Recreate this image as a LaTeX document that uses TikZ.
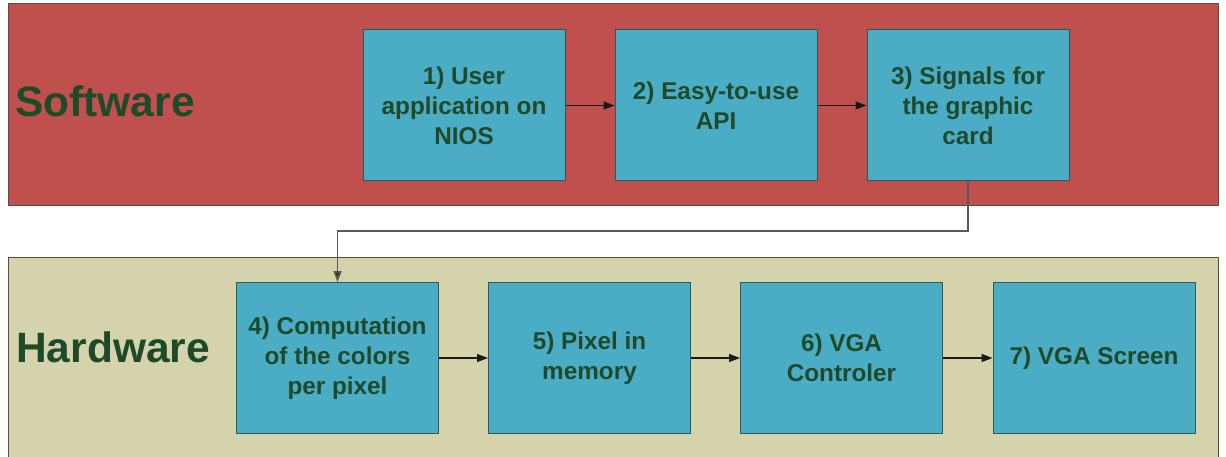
\documentclass[tikz,border=0pt]{standalone}
\usepackage{fontspec}
\setmainfont{Liberation Sans}
\usetikzlibrary{arrows.meta}
\definecolor{swred}{HTML}{C0504D}
\definecolor{hwtan}{HTML}{D5D3AB}
\definecolor{boxblue}{HTML}{4BACC6}
\definecolor{boxline}{HTML}{2E5A55}
\definecolor{bandline}{HTML}{5A4A3E}
\definecolor{txtgreen}{HTML}{1F4A2A}
\tikzset{
  band/.style={draw=bandline, line width=1pt},
  stage/.style={draw=boxline, fill=boxblue, line width=1pt, minimum width=202pt,
    minimum height=151pt, align=center, text=txtgreen,
    font=\fontsize{24.3}{30}\selectfont\bfseries, inner sep=0pt},
  bandlabel/.style={anchor=base west, text=txtgreen, inner sep=0pt,
    font=\fontsize{42.5}{48}\selectfont\bfseries},
  flow/.style={draw=black!90, line width=1.3pt, -{Triangle[length=11pt,width=8pt]}},
  link/.style={draw=black!65, line width=1.8pt, -{Triangle[length=11pt,width=8pt,fill=black!85]}}
}
\begin{document}
\begin{tikzpicture}[x=1pt,y=1pt]
\useasboundingbox (0,0) rectangle (1226,-457);
\fill[white] (0,0) rectangle (1226,-457);
% layers
\filldraw[band, fill=swred] (8,-4) rectangle (1218,-206);
\filldraw[band, fill=hwtan] (8,-257) rectangle (1218,-460);
\node[bandlabel] (sw) at (15,-117) {Software};
\node[bandlabel] (hw) at (16,-362) {Hardware};
% software stages
\node[stage] (s1) at (464,-105.5) {1) User\\application on\\NIOS};
\node[stage] (s2) at (716,-105.5) {2) Easy-to-use\\API};
\node[stage] (s3) at (968,-105.5) {3) Signals for\\the graphic\\card};
% hardware stages
\node[stage] (h4) at (337.5,-358) {4) Computation\\of the colors\\per pixel};
\node[stage] (h5) at (589.5,-358) {5) Pixel in\\memory};
\node[stage] (h6) at (841.5,-358) {6) VGA\\Controler};
\node[stage] (h7) at (1094,-358) {7) VGA Screen};
% connectors
\draw[flow] (s1) -- (s2);
\draw[flow] (s2) -- (s3);
\coordinate (bend) at (0,-231);
\draw[link] (s3.south) |- (bend -| h4.north) -- (h4.north);
\draw[flow] (h4) -- (h5);
\draw[flow] (h5) -- (h6);
\draw[flow] (h6) -- (h7);
\end{tikzpicture}
\end{document}
